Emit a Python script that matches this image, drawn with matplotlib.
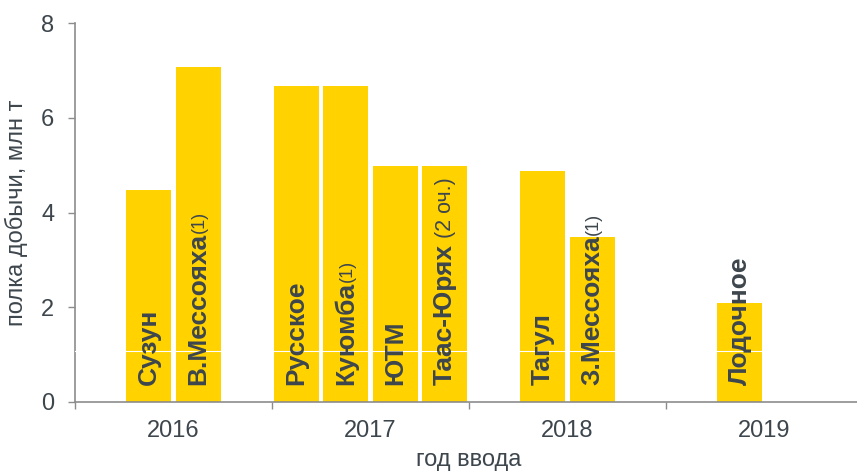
import matplotlib
matplotlib.use('Agg')
import matplotlib.pyplot as plt

plt.rcParams['font.family'] = ['Liberation Sans', 'DejaVu Sans']

years = ['2016', '2017', '2018', '2019']
names = ['Сузун', 'В.Мессояха', 'Русское', 'Куюмба', 'ЮТМ', 'Таас-Юрях',
         'Тагул', 'З.Мессояха', 'Лодочное']
notes = ['', '(1)', '', '(1)', '', ' (2 оч.)', '', '(1)', '']
slots = [1, 2, 4, 5, 6, 7, 9, 10, 13]
values = [4.47, 7.07, 6.67, 6.67, 4.98, 4.98, 4.87, 3.48, 2.08]

yellow = '#FFD200'
txt = '#3D464D'
grey = '#8C8C8C'

fig = plt.figure(figsize=(8.57, 4.76), dpi=100)
ax = fig.add_axes([75 / 857, 1 - 402 / 476, 788 / 857, 379 / 476])

ax.bar(slots, values, width=0.915, color=yellow, zorder=2)
ax.set_xlim(-0.5, 15.5)
ax.set_ylim(0, 8)
ax.set_yticks([0, 2, 4, 6, 8])

ax.set_xticks([-0.5, 3.5, 7.5, 11.5, 15.5])
ax.set_xticklabels([])
ax.set_xticks([1.5, 5.5, 9.5, 13.5], minor=True)
ax.set_xticklabels(years, minor=True)
ax.tick_params(axis='x', which='major', length=5, color=grey, width=1)
ax.tick_params(axis='x', which='minor', length=0, pad=13, labelsize=17, labelcolor=txt)
ax.tick_params(axis='y', length=5, color=grey, width=1, labelsize=17, labelcolor=txt, pad=10)

for s in ['top', 'right']:
    ax.spines[s].set_visible(False)
for s in ['left', 'bottom']:
    ax.spines[s].set_color(grey)
    ax.spines[s].set_linewidth(1.2)

ax.axhline(1.08, color='white', lw=0.8, zorder=3, clip_on=False)

ax.set_xlabel('год ввода', fontsize=17, color=txt)
ax.xaxis.set_label_coords(0.5, -0.125)
ax.set_ylabel('полка добычи, млн т', fontsize=17, color=txt)
ax.yaxis.set_label_coords(-0.06, 0.5)

labels = []
for x, n in zip(slots, names):
    t = ax.text(x, 0.36, n, rotation=90, ha='center', va='bottom', fontsize=19,
                fontweight='bold', color=txt, zorder=4)
    labels.append(t)

fig.canvas.draw()
r = fig.canvas.get_renderer()
inv = ax.transData.inverted()
for t, note, x in zip(labels, notes, slots):
    if not note:
        continue
    bb = t.get_window_extent(r)
    x0, y1 = inv.transform((bb.x0, bb.y1))
    if note == '(1)':
        ax.text(x + 0.03, y1, note, rotation=90, ha='center', va='bottom',
                fontsize=13, color=txt, zorder=4)
    else:
        ax.text(x + 0.02, y1, note, rotation=90, ha='center', va='bottom',
                fontsize=15.5, color=txt, zorder=4)

fig.savefig('out.png', dpi=100)
